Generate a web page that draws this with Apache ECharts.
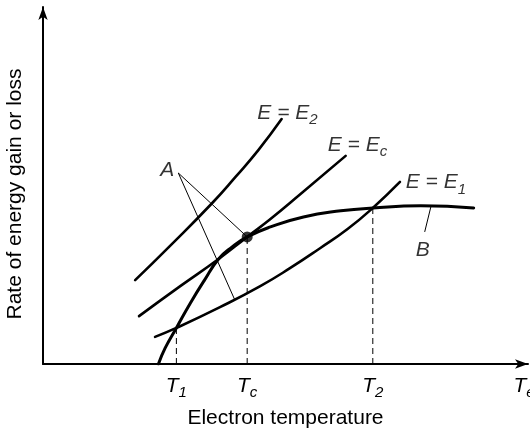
<!DOCTYPE html>
<html>
<head>
<meta charset="utf-8">
<script src="https://cdn.jsdelivr.net/npm/echarts@6/dist/echarts.min.js"></script>
<style>
  html, body { margin: 0; padding: 0; background: #fff; }
  #chart { width: 530px; height: 433px; }
</style>
</head>
<body>
<div id="chart"></div>
<script>
// Electron temperature (x) and rate of energy gain/loss (y), arbitrary units 0..100

// Energy-loss curve B
const lossB = [[23.8, 0], [25.2, 4.5], [27.5, 10.1], [30.4, 17.1], [33.3, 23.5], [36.2, 29.4],
  [39.0, 32.8], [42.1, 35.6], [46.9, 38.4], [53.7, 41.2], [61.4, 42.9], [68.0, 43.7],
  [77.9, 44.3], [88.8, 43.7]];

// Energy-gain curves for three field strengths
const gainE2 = [[19.0, 23.5], [26.2, 33.1], [34.9, 45.1], [39.7, 52.4], [44.4, 59.9], [49.2, 68.6]];
const gainEc = [[19.8, 13.4], [28.3, 21.8], [36.2, 29.4], [42.1, 35.6], [46.9, 40.6], [53.1, 47.6], [62.4, 58.3]];
const gainE1 = [[23.1, 7.6], [27.5, 10.1], [36.6, 16.0], [44.8, 21.8], [51.0, 26.9], [57.2, 32.5],
  [62.8, 37.8], [68.0, 43.7], [73.6, 51.0]];

// Marked temperatures, their subscripts, and the rate where each crossing occurs
const tickTemps = [27.5, 42.1, 68.0, 99.2];
const tickSubs = ['1', 'c', '2', 'e'];
const crossRates = [10.1, 35.6, 43.7];

// Critical point (tangency of E = Ec with B)
const criticalPoint = [42.1, 35.6];

// Curve labels: [x, y, main text, subscript]
const curveLabels = [
  [44.2, 70.3, 'E = E', '2'],
  [58.7, 61.3, 'E = E', 'c'],
  [74.8, 50.8, 'E = E', '1']
];

// Pointer "A" and its two leader lines
const labelA = [25.6, 54.3];
const leaderA = [[[27.9, 53.5], [42.1, 35.6]], [[27.9, 53.5], [39.5, 18.1]]];

// Pointer "B" and its leader line
const labelB = [78.3, 31.9];
const leaderB = [[78.7, 37.0], [80.0, 44.2]];

const FONT = '"Liberation Sans", Arial, Helvetica, sans-serif';

const richText = {
  t: { fontFamily: FONT, fontSize: 21, fontStyle: 'italic', color: '#000', lineHeight: 24 },
  s: { fontFamily: FONT, fontSize: 15, fontStyle: 'italic', color: '#000', lineHeight: 14, padding: [14, 0, 0, 0] }
};

function curve(data, width) {
  return {
    type: 'line', data: data, smooth: 0.5, symbol: 'none', silent: true,
    lineStyle: { color: '#000', width: width, cap: 'round' }, z: 3
  };
}

function segment(data, width, dashed) {
  return {
    type: 'line', data: data, symbol: 'none', silent: true,
    lineStyle: { color: '#000', width: width, type: dashed ? [6, 4] : 'solid' }, z: 2
  };
}

const series = [
  curve(lossB, 3),
  curve(gainE2, 2.6),
  curve(gainEc, 2.6),
  curve(gainE1, 2.6)
];

crossRates.forEach((r, i) => {
  series.push(segment([[tickTemps[i], 0], [tickTemps[i], r]], 1, true));
});
leaderA.forEach(seg => series.push(segment(seg, 1, false)));
series.push(segment(leaderB, 1, false));

series.push({
  type: 'scatter', silent: true, z: 5,
  symbolSize: 11, itemStyle: { color: '#000' },
  data: [criticalPoint]
});

const textItems = curveLabels.map(c => ({
  value: [c[0], c[1]],
  label: { formatter: '{t|' + c[2] + '}{s|' + c[3] + '}', position: 'right', distance: 0 }
}));
textItems.push({ value: labelA, label: { formatter: '{t|A}', position: 'inside' } });
textItems.push({ value: labelB, label: { formatter: '{t|B}', position: 'inside' } });

series.push({
  type: 'scatter', silent: true, symbolSize: 0, z: 6,
  label: { show: true, rich: richText },
  data: textItems
});

const chart = echarts.init(document.getElementById('chart'), null, { renderer: 'canvas' });
chart.setOption({
  animation: false,
  backgroundColor: '#fff',
  grid: { left: 43, right: 2, top: 7, bottom: 69, containLabel: false, outerBoundsMode: 'none' },
  xAxis: {
    type: 'value', min: 0, max: 100,
    name: 'Electron temperature', nameLocation: 'middle', nameGap: 44,
    nameTextStyle: { fontFamily: FONT, fontSize: 21, color: '#000' },
    axisLine: { lineStyle: { color: '#000', width: 2 }, symbol: ['none', 'arrow'], symbolSize: [7, 13] },
    axisTick: { show: false },
    splitLine: { show: false },
    axisLabel: {
      customValues: tickTemps, margin: 10,
      formatter: v => '{t|T}{s|' + tickSubs[tickTemps.indexOf(v)] + '}',
      rich: richText
    }
  },
  yAxis: {
    type: 'value', min: 0, max: 100,
    name: 'Rate of energy gain or loss', nameLocation: 'middle', nameGap: 17,
    nameTextStyle: { fontFamily: FONT, fontSize: 21, color: '#000', padding: [0, 17, 0, 0] },
    axisLine: { lineStyle: { color: '#000', width: 2 }, symbol: ['none', 'arrow'], symbolSize: [7, 13] },
    axisTick: { show: false },
    splitLine: { show: false },
    axisLabel: { show: false }
  },
  series: series
});
</script>
</body>
</html>
